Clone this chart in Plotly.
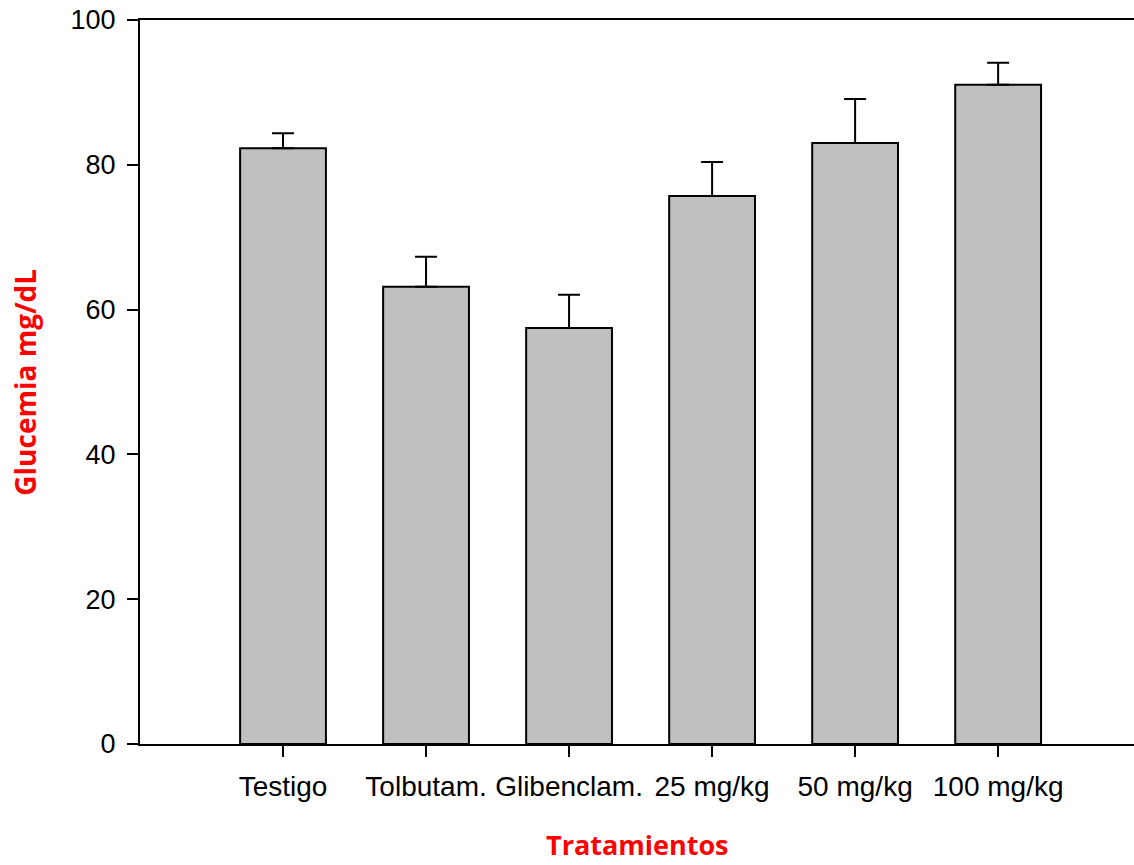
import plotly.graph_objects as go

categories = ["Testigo", "Tolbutam.", "Glibenclam.", "25 mg/kg", "50 mg/kg", "100 mg/kg"]
glucemia = [82.3, 63.15, 57.45, 75.7, 83.0, 91.05]
error_sup = [2.05, 4.15, 4.6, 4.7, 6.1, 3.05]
y_ticks = [0, 20, 40, 60, 80, 100]

fig = go.Figure()
fig.add_trace(go.Bar(
    x=list(range(1, len(categories) + 1)),
    y=glucemia,
    width=0.6,
    marker=dict(color="#C0C0C0", line=dict(color="black", width=2)),
    error_y=dict(type="data", symmetric=False, array=error_sup,
                 arrayminus=[0] * len(error_sup),
                 color="black", thickness=2, width=11),
    showlegend=False,
))

tick_font = dict(family="Liberation Sans, Arial, sans-serif", size=28, color="black")
title_font = dict(family="Open Sans, sans-serif", size=28, color="#FF0000")

fig.update_layout(
    width=1134, height=865,
    margin=dict(l=140, r=0, t=20, b=121),
    paper_bgcolor="white", plot_bgcolor="white",
    xaxis=dict(
        range=[0, 6.95],
        tickmode="array",
        tickvals=list(range(1, len(categories) + 1)),
        ticktext=categories,
        ticks="outside", ticklen=11, tickwidth=2, tickcolor="black",
        showline=True, linecolor="black", linewidth=2, mirror=True,
        showgrid=False, zeroline=False,
        tickfont=tick_font,
        ticklabelstandoff=5,
    ),
    yaxis=dict(
        range=[0, 100],
        tickmode="array", tickvals=y_ticks,
        ticks="outside", ticklen=11, tickwidth=2, tickcolor="black",
        showline=True, linecolor="black", linewidth=2,
        showgrid=False, zeroline=False,
        tickfont=dict(tick_font, size=27),
        ticklabelstandoff=6,
    ),
    annotations=[
        dict(text="<b>Tratamientos</b>", xref="paper", yref="paper",
             x=0.5, y=-0.139, xanchor="center", yanchor="middle",
             showarrow=False, font=dict(title_font, size=27)),
        dict(text="<b>Glucemia mg/dL</b>", xref="paper", yref="paper",
             x=-0.116, y=0.5, xanchor="center", yanchor="middle",
             textangle=-90, showarrow=False, font=title_font),
    ],
)

fig.write_html("out.html", config={"displayModeBar": False},
               post_script="document.body.style.margin='0';document.body.style.overflow='hidden';")
